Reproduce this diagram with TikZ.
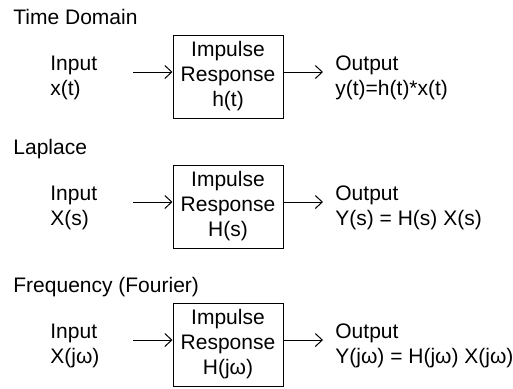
\documentclass[tikz,border=0pt]{standalone}
\usepackage{fontspec}
\setmainfont{Liberation Sans}
\usetikzlibrary{arrows.meta,positioning}

\begin{document}
\begin{tikzpicture}[x=0.5pt,y=-0.5pt,
    font=\fontsize{10.5}{12.5}\selectfont,
    lbl/.style={anchor=base west,align=left,inner sep=0pt},
    irbox/.style={rectangle,draw,line width=0.5pt,minimum width=55pt,minimum height=41.5pt,align=center,inner sep=0pt},
    sig/.style={line width=0.5pt,-{Straight Barb[length=3.5pt,width=6.5pt]}}]
    \useasboundingbox (0,0) rectangle (513,388);
    % time domain
    \node[lbl] (tdtitle) at (13,24) {Time Domain};
    \node[lbl] (tdin) at (50,95) {Input\\x(t)};
    \node[irbox] (tdbox) at (228,76.5) {Impulse\\Response\\h(t)};
    \node[lbl] (tdout) at (335,95) {Output\\y(t)=h(t)*x(t)};
    \coordinate (tdsrc) at (133,72);
    \coordinate (tddst) at (323,72);
    \draw[sig] (tdsrc) -- (tdsrc -| tdbox.west);
    \draw[sig] (tdsrc -| tdbox.east) -- (tddst);
    % laplace
    \node[lbl] (lptitle) at (13,154) {Laplace};
    \node[lbl] (lpin) at (50,225) {Input\\X(s)};
    \node[irbox] (lpbox) at (228,206.5) {Impulse\\Response\\H(s)};
    \node[lbl] (lpout) at (335,225) {Output\\Y(s) = H(s) X(s)};
    \coordinate (lpsrc) at (133,202);
    \coordinate (lpdst) at (323,202);
    \draw[sig] (lpsrc) -- (lpsrc -| lpbox.west);
    \draw[sig] (lpsrc -| lpbox.east) -- (lpdst);
    % fourier
    \node[lbl] (fttitle) at (13,292) {Frequency (Fourier)};
    \node[lbl] (ftin) at (50,363) {Input\\X(jω)};
    \node[irbox] (ftbox) at (228,344.5) {Impulse\\Response\\H(jω)};
    \node[lbl] (ftout) at (335,363) {Output\\Y(jω) = H(jω) X(jω)};
    \coordinate (ftsrc) at (133,340);
    \coordinate (ftdst) at (323,340);
    \draw[sig] (ftsrc) -- (ftsrc -| ftbox.west);
    \draw[sig] (ftsrc -| ftbox.east) -- (ftdst);
\end{tikzpicture}
\end{document}
